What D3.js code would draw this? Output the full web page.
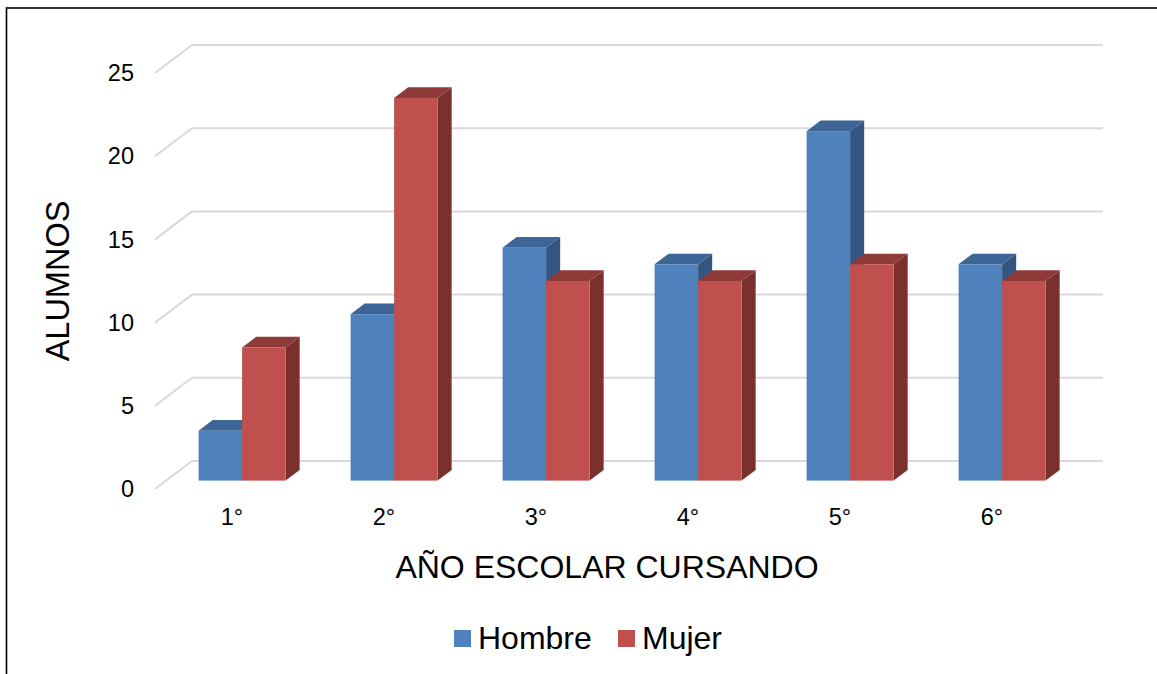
<!DOCTYPE html>
<html>
<head>
<meta charset="utf-8">
<script src="https://cdn.jsdelivr.net/npm/d3@7"></script>
<style>
  html, body { margin: 0; padding: 0; background: #fff; }
  svg { display: block; font-family: "Liberation Sans", Arial, sans-serif; }
</style>
</head>
<body>
<svg id="chart" width="1157" height="674"></svg>
<script>
const categories = ["1°", "2°", "3°", "4°", "5°", "6°"];
const seriesNames = ["Hombre", "Mujer"];
const hombre = [3, 10, 14, 13, 21, 13];
const mujer = [8, 23, 12, 12, 13, 12];
const yTicks = [0, 5, 10, 15, 20, 25];
const yTitle = "ALUMNOS";
const xTitle = "AÑO ESCOLAR CURSANDO";

const colors = {
  Hombre: { front: "#4F81BD", top: "#3D6595", side: "#34557F" },
  Mujer:  { front: "#C0504D", top: "#8E3A38", side: "#7B302E" }
};

const svg = d3.select("#chart");

// Outer border (only top and left visible in the frame)
svg.append("rect")
  .attr("x", 6.5).attr("y", 8)
  .attr("width", 1200).attr("height", 700)
  .attr("fill", "none").attr("stroke", "#000").attr("stroke-width", 1.6);

// Front plane scales
const x = d3.scaleBand().domain(categories).range([155, 1067]).padding(0);
const y = d3.scaleLinear().domain([0, 25]).range([489, 73]);
const depth = { dx: 37, dy: -28 };
const barDepthStart = 0.3, barDepthEnd = 0.68;
const xInner = d3.scaleBand().domain(seriesNames).range([-43.5, 43.5]).padding(0);

// Grid: back wall lines + side wall diagonals
const grid = svg.append("g");
yTicks.forEach(v => {
  const yf = y(v);
  grid.append("line")
    .attr("x1", x.range()[0]).attr("y1", yf)
    .attr("x2", x.range()[0] + depth.dx).attr("y2", yf + depth.dy)
    .attr("stroke", "#D9D9D9").attr("stroke-width", 2);
  grid.append("line")
    .attr("x1", x.range()[0] + depth.dx).attr("y1", yf + depth.dy)
    .attr("x2", x.range()[1] + depth.dx - 1).attr("y2", yf + depth.dy)
    .attr("stroke", "#D9D9D9").attr("stroke-width", 2);
});

// Y tick labels
svg.append("g").selectAll("text").data(yTicks).join("text")
  .attr("x", 134).attr("y", d => y(d))
  .attr("dy", "0.35em")
  .attr("text-anchor", "end")
  .attr("font-size", 23.5).attr("fill", "#000")
  .text(d => d);

// Bars
const data = [];
categories.forEach((c, i) => {
  data.push({ cat: c, s: "Hombre", v: hombre[i] });
  data.push({ cat: c, s: "Mujer", v: mujer[i] });
});
const dxF = depth.dx * barDepthStart, dyF = depth.dy * barDepthStart;
const bdx = depth.dx * (barDepthEnd - barDepthStart), bdy = depth.dy * (barDepthEnd - barDepthStart);

const bars = svg.append("g");
data.forEach(d => {
  const cx = x(d.cat) + x.bandwidth() / 2 + dxF;
  const x0 = cx + xInner(d.s), x1 = x0 + xInner.bandwidth();
  const yb = y(0) + dyF, yt = y(d.v) + dyF;
  const c = colors[d.s];
  const g = bars.append("g");
  g.append("path")
    .attr("d", `M${x1},${yt} L${x1 + bdx},${yt + bdy} L${x1 + bdx},${yb + bdy} L${x1},${yb} Z`)
    .attr("fill", c.side);
  g.append("path")
    .attr("d", `M${x0},${yt} L${x0 + bdx},${yt + bdy} L${x1 + bdx},${yt + bdy} L${x1},${yt} Z`)
    .attr("fill", c.top);
  g.append("rect")
    .attr("x", x0).attr("y", yt)
    .attr("width", x1 - x0).attr("height", yb - yt)
    .attr("fill", c.front);
});

// Category labels
svg.append("g").selectAll("text").data(categories).join("text")
  .attr("x", d => x(d) + x.bandwidth() / 2 + 1)
  .attr("y", 525)
  .attr("text-anchor", "middle")
  .attr("font-size", 23.5).attr("fill", "#000")
  .text(d => d);

// Axis titles
svg.append("text")
  .attr("x", 607).attr("y", 578)
  .attr("text-anchor", "middle")
  .attr("font-size", 32).attr("fill", "#000")
  .text(xTitle);

svg.append("text")
  .attr("transform", "translate(69,281) rotate(-90)")
  .attr("text-anchor", "middle")
  .attr("font-size", 32.5).attr("fill", "#000")
  .text(yTitle);

// Legend
const legendX = [454, 618];
const legend = svg.append("g");
seriesNames.forEach((s, i) => {
  legend.append("rect")
    .attr("x", legendX[i]).attr("y", 630)
    .attr("width", 17).attr("height", 17)
    .attr("fill", colors[s].front);
  legend.append("text")
    .attr("x", legendX[i] + 24).attr("y", 649)
    .attr("font-size", 32).attr("fill", "#000")
    .text(s);
});
</script>
</body>
</html>
